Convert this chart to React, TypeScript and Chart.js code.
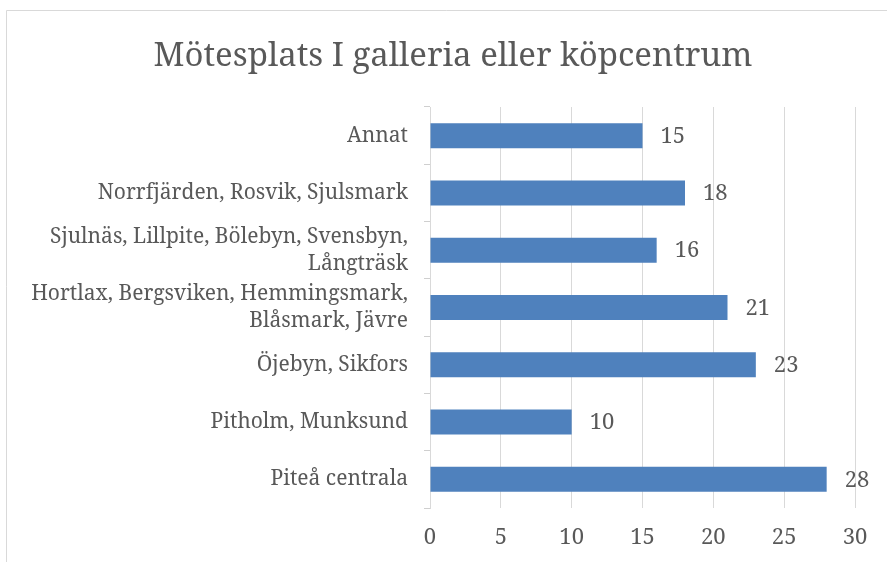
import React, { useEffect, useRef } from "react";
import { Chart, registerables } from "chart.js";

Chart.register(...registerables);

const categories: (string | string[])[] = [
  "Annat",
  "Norrfjärden, Rosvik, Sjulsmark",
  ["Sjulnäs, Lillpite, Bölebyn, Svensbyn,", "Långträsk"],
  ["Hortlax, Bergsviken, Hemmingsmark,", "Blåsmark, Jävre"],
  "Öjebyn, Sikfors",
  "Pitholm, Munksund",
  "Piteå centrala",
];
const values: number[] = [15, 18, 16, 21, 23, 10, 28];
const xTicks: number[] = [0, 5, 10, 15, 20, 25, 30];
const titleText = "Mötesplats I galleria eller köpcentrum";

const FONT = "'Noto Serif', 'DejaVu Serif Condensed', serif";
const TEXT = "#595959";
const GRID = "#d9d9d9";

const framePlugin = {
  id: "frame",
  beforeDraw(chart: any) {
    const ctx = chart.ctx;
    ctx.save();
    ctx.fillStyle = "#ffffff";
    ctx.fillRect(0, 0, chart.width, chart.height);
    ctx.strokeStyle = GRID;
    ctx.lineWidth = 1;
    ctx.beginPath();
    ctx.moveTo(6.5, chart.height);
    ctx.lineTo(6.5, 10.5);
    ctx.lineTo(chart.width, 10.5);
    ctx.stroke();
    ctx.restore();
  },
  afterDraw(chart: any) {
    // Title centred on the (wider) chart frame, as in the original
    const ctx = chart.ctx;
    ctx.save();
    ctx.fillStyle = TEXT;
    ctx.font = `33px ${FONT}`;
    ctx.textAlign = "center";
    ctx.textBaseline = "alphabetic";
    ctx.fillText(titleText, 453, 66);
    ctx.restore();
  },
};

const labelPlugin = {
  id: "barLabels",
  afterDatasetsDraw(chart: any) {
    const ctx = chart.ctx;
    const meta = chart.getDatasetMeta(0);
    ctx.save();
    ctx.fillStyle = TEXT;
    ctx.font = `22px ${FONT}`;
    ctx.textAlign = "left";
    ctx.textBaseline = "middle";
    meta.data.forEach((bar: any, i: number) => {
      ctx.fillText(String(values[i]), bar.x + 18, bar.y + 1);
    });
    ctx.restore();
  },
};

export default function App() {
  const ref = useRef<HTMLCanvasElement | null>(null);
  useEffect(() => {
    document.body.style.margin = "0";
    const chart = new Chart(ref.current as HTMLCanvasElement, {
      type: "bar",
      data: {
        labels: categories,
        datasets: [
          {
            data: values,
            backgroundColor: "#4f81bd",
            borderWidth: 0,
            barPercentage: 0.436,
            categoryPercentage: 1,
          },
        ],
      },
      options: {
        indexAxis: "y",
        responsive: false,
        animation: false,
        layout: { padding: { left: 0, right: 32, top: 107, bottom: 10 } },
        plugins: {
          legend: { display: false },
          tooltip: { enabled: false },
          title: { display: false },
        },
        scales: {
          x: {
            min: 0,
            max: 30,
            afterBuildTicks: (axis: any) => {
              axis.ticks = xTicks.map((v) => ({ value: v }));
            },
            afterFit: (axis: any) => {
              axis.height = 44;
            },
            grid: { color: GRID, drawTicks: false },
            border: { display: false },
            ticks: {
              color: TEXT,
              font: { family: FONT, size: 22, lineHeight: 1.2 },
              padding: 17,
            },
          },
          y: {
            afterFit: (axis: any) => {
              axis.width = 430;
            },
            grid: {
              color: "#cfcfcf",
              drawOnChartArea: false,
              drawTicks: true,
              tickLength: 6,
            },
            border: { display: true, color: GRID },
            ticks: {
              autoSkip: false,
              color: TEXT,
              font: { family: FONT, size: 21, lineHeight: 1.29 },
              padding: 16,
            },
          },
        },
      },
      plugins: [framePlugin, labelPlugin],
    });
    return () => chart.destroy();
  }, []);
  return <canvas ref={ref} width={887} height={562} style={{ display: "block" }} />;
}
